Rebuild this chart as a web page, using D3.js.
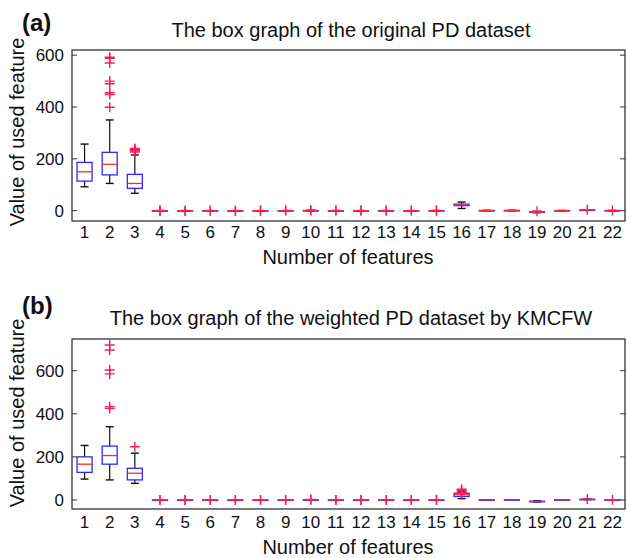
<!DOCTYPE html>
<html>
<head>
<meta charset="utf-8">
<script src="https://cdn.jsdelivr.net/npm/d3@7"></script>
<style>
  body { margin: 0; background: #fff; }
  text { font-family: "Liberation Sans", Arial, sans-serif; fill: #111; }
</style>
</head>
<body>
<svg id="chart" width="627" height="558"></svg>
<script>
// feature numbers on the x axis
var features = d3.range(1, 23);

// box stats per feature: [lower whisker, q1, median, q3, upper whisker]
var statsA = [
  [92, 114, 150, 186, 257],
  [105, 138, 179, 225, 350],
  [67, 86, 105, 140, 215],
  [0.0017, 0.0035, 0.0049, 0.0074, 0.0130],
  [0.00001, 0.00002, 0.00003, 0.00005, 0.00009],
  [0.0007, 0.0017, 0.0025, 0.0038, 0.0070],
  [0.0009, 0.0019, 0.0027, 0.0040, 0.0071],
  [0.0020, 0.0050, 0.0075, 0.0115, 0.0210],
  [0.0095, 0.0165, 0.0230, 0.0379, 0.0690],
  [0.085, 0.148, 0.221, 0.350, 0.640],
  [0.0046, 0.0082, 0.0122, 0.0202, 0.0370],
  [0.0057, 0.0096, 0.0135, 0.0222, 0.0410],
  [0.0072, 0.0130, 0.0183, 0.0294, 0.0540],
  [0.0136, 0.0247, 0.0365, 0.0606, 0.1110],
  [0.0007, 0.0059, 0.0116, 0.0256, 0.0540],
  [8.4, 19.2, 22.1, 25.1, 33.0],
  [0.26, 0.42, 0.50, 0.59, 0.69],
  [0.57, 0.67, 0.72, 0.76, 0.83],
  [-7.96, -6.45, -5.72, -5.05, -2.93],
  [0.006, 0.17, 0.22, 0.28, 0.45],
  [1.42, 2.10, 2.36, 2.64, 3.31],
  [0.04, 0.14, 0.19, 0.25, 0.43]
];
var outliersA = [
  [],
  [399, 448, 455, 490, 500, 570, 588, 592],
  [226, 230, 233, 236, 240],
  [0.022, 0.027, 0.033], [0.00013, 0.00026], [0.012, 0.021], [0.011, 0.019],
  [0.036, 0.064], [0.080, 0.119], [0.72, 1.30], [0.045, 0.056], [0.050, 0.079],
  [0.065, 0.138], [0.130, 0.169], [0.070, 0.31],
  [], [], [], [-2.43], [], [3.67], [0.53]
];

var statsB = [
  [97, 128, 166, 200, 253],
  [93, 166, 206, 250, 340],
  [77, 93, 124, 147, 217],
  [0.003, 0.006, 0.009, 0.013, 0.024],
  [0.00002, 0.00004, 0.00005, 0.00009, 0.00016],
  [0.0013, 0.0031, 0.0045, 0.0069, 0.0126],
  [0.0016, 0.0034, 0.0049, 0.0072, 0.0128],
  [0.0036, 0.0090, 0.0135, 0.0207, 0.0378],
  [0.017, 0.030, 0.041, 0.068, 0.124],
  [0.15, 0.27, 0.40, 0.63, 1.15],
  [0.008, 0.015, 0.022, 0.036, 0.067],
  [0.010, 0.017, 0.024, 0.040, 0.074],
  [0.013, 0.023, 0.033, 0.053, 0.097],
  [0.024, 0.044, 0.066, 0.109, 0.200],
  [0.001, 0.011, 0.021, 0.046, 0.097],
  [6, 16, 24, 31, 40],
  [0.31, 0.50, 0.60, 0.71, 0.83],
  [0.68, 0.80, 0.86, 0.91, 1.00],
  [-9.6, -7.7, -6.9, -6.1, -3.5],
  [0.007, 0.20, 0.26, 0.34, 0.54],
  [1.70, 2.52, 2.83, 3.17, 3.97],
  [0.05, 0.17, 0.23, 0.30, 0.52]
];
var outliersB = [
  [],
  [425, 433, 585, 603, 696, 719],
  [247],
  [0.04, 0.05], [0.0003, 0.0005], [0.022, 0.038], [0.020, 0.034],
  [0.065, 0.115], [0.144, 0.214], [1.30, 2.34], [0.081, 0.101], [0.090, 0.142],
  [0.117, 0.248], [0.234, 0.304], [0.126, 0.56],
  [30, 36, 44, 50], [], [], [], [], [4.40], [0.64]
];

var yTicks = [0, 200, 400, 600];

var panels = [
  {tag: "(a)", title: "The box graph of the original PD dataset",
   stats: statsA, outliers: outliersA, domain: [-40, 620],
   top: 50, bottom: 221, tagY: 31, titleY: 37, tickY: 238, labelY: 264, ylabY: 132},
  {tag: "(b)", title: "The box graph of the weighted PD dataset by KMCFW",
   stats: statsB, outliers: outliersB, domain: [-42, 747],
   top: 339, bottom: 509, tagY: 314, titleY: 325, tickY: 528, labelY: 554, ylabY: 413}
];

var svg = d3.select("#chart");
var left = 72, right = 625;

var x = d3.scaleLinear().domain([0.5, 22.5]).range([left, right]);
var boxW = 15, capW = 8, plusR = 5;
var boxColor = "#2a2aff", medColor = "#ff2a2a", outColor = "#f0205a";

panels.forEach(function(p) {
  var y = d3.scaleLinear().domain(p.domain).range([p.bottom, p.top]);
  var g = svg.append("g");

  // frame
  g.append("rect")
    .attr("x", left).attr("y", p.top)
    .attr("width", right - left).attr("height", p.bottom - p.top)
    .attr("fill", "none").attr("stroke", "#333").attr("stroke-width", 1.3);

  // y ticks (inside, both sides)
  yTicks.forEach(function(t) {
    g.append("line").attr("x1", left).attr("x2", left + 5)
      .attr("y1", y(t)).attr("y2", y(t)).attr("stroke", "#333");
    g.append("line").attr("x1", right).attr("x2", right - 5)
      .attr("y1", y(t)).attr("y2", y(t)).attr("stroke", "#333");
    g.append("text").attr("x", 64).attr("y", y(t)).attr("dy", "0.35em")
      .attr("text-anchor", "end").style("font-size", "17px").text(t);
  });

  // x tick labels
  features.forEach(function(f) {
    g.append("text").attr("x", x(f)).attr("y", p.tickY)
      .attr("text-anchor", "middle").style("font-size", "17px").text(f);
  });

  // boxes
  p.stats.forEach(function(s, i) {
    var cx = x(features[i]);
    var bx = g.append("g");
    // whiskers
    bx.append("line").attr("x1", cx).attr("x2", cx)
      .attr("y1", y(s[3])).attr("y2", y(s[4])).attr("stroke", "#111").attr("stroke-width", 1.2);
    bx.append("line").attr("x1", cx).attr("x2", cx)
      .attr("y1", y(s[1])).attr("y2", y(s[0])).attr("stroke", "#111").attr("stroke-width", 1.2);
    [s[0], s[4]].forEach(function(v) {
      bx.append("line").attr("x1", cx - capW / 2).attr("x2", cx + capW / 2)
        .attr("y1", y(v)).attr("y2", y(v)).attr("stroke", "#111").attr("stroke-width", 1.4);
    });
    bx.append("rect")
      .attr("x", cx - boxW / 2).attr("y", y(s[3]))
      .attr("width", boxW).attr("height", Math.max(0.5, y(s[1]) - y(s[3])))
      .attr("fill", "none").attr("stroke", boxColor).attr("stroke-width", 1.3);
    bx.append("line").attr("x1", cx - boxW / 2).attr("x2", cx + boxW / 2)
      .attr("y1", y(s[2])).attr("y2", y(s[2])).attr("stroke", medColor).attr("stroke-width", 1.3);

    p.outliers[i].forEach(function(o) {
      var oy = y(o);
      bx.append("path")
        .attr("d", "M" + (cx - plusR) + "," + oy + "H" + (cx + plusR) +
                   "M" + cx + "," + (oy - plusR) + "V" + (oy + plusR))
        .attr("stroke", outColor).attr("stroke-width", 1.4).attr("fill", "none");
    });
  });

  // titles and labels
  svg.append("text").attr("x", 22).attr("y", p.tagY)
    .style("font-size", "24px").style("font-weight", "bold").text(p.tag);
  svg.append("text").attr("x", 351).attr("y", p.titleY)
    .attr("text-anchor", "middle").style("font-size", "20px").text(p.title);
  svg.append("text").attr("x", 348).attr("y", p.labelY)
    .attr("text-anchor", "middle").style("font-size", "20px").text("Number of features");
  svg.append("text")
    .attr("transform", "translate(24," + p.ylabY + ") rotate(-90)")
    .attr("text-anchor", "middle").style("font-size", "20px").text("Value of used feature");
});
</script>
</body>
</html>
